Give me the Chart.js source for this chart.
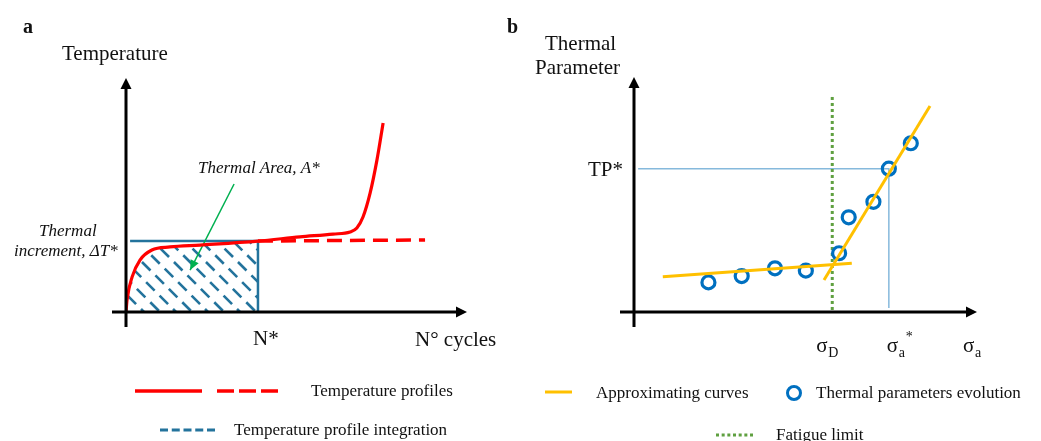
<!DOCTYPE html>
<html>
<head>
<meta charset="utf-8">
<script src="https://cdn.jsdelivr.net/npm/chart.js@4.4.1/dist/chart.umd.min.js"></script>
<style>
  body { margin: 0; background: #fff; }
  #wrap {
    position: relative; width: 1041px; height: 441px; overflow: hidden;
    background: #fff; font-family: 'Liberation Serif', 'Times New Roman', serif; color: #111;
  }
  #wrap canvas { position: absolute; top: 0; }
  #chart-a { left: 0; }
  #chart-b { left: 500px; }
  .key { position: absolute; font-size: 17px; line-height: 20px; white-space: nowrap; }
  #keys { position: absolute; left: 0; top: 0; pointer-events: none; }
</style>
</head>
<body>
<div id="wrap">
  <canvas id="chart-a" width="500" height="360"></canvas>
  <canvas id="chart-b" width="541" height="360"></canvas>

  <!-- legend marks -->
  <svg id="keys" width="1041" height="441">
    <line x1="135" y1="391" x2="202" y2="391" stroke="#ff0000" stroke-width="3.5"/>
    <line x1="217" y1="391" x2="278" y2="391" stroke="#ff0000" stroke-width="3.5" stroke-dasharray="17 5"/>
    <line x1="160" y1="430" x2="215" y2="430" stroke="#23739c" stroke-width="3" stroke-dasharray="8 3.75"/>
    <line x1="545" y1="392" x2="572" y2="392" stroke="#ffc000" stroke-width="3"/>
    <circle cx="794" cy="393" r="6.5" fill="none" stroke="#0070c0" stroke-width="3"/>
    <line x1="716" y1="435" x2="753" y2="435" stroke="#5fa040" stroke-width="3" stroke-dasharray="3 2.67"/>
  </svg>
  <div class="key" style="left:311px;top:381px">Temperature profiles</div>
  <div class="key" style="left:234px;top:420px">Temperature profile integration</div>
  <div class="key" style="left:596px;top:383px">Approximating curves</div>
  <div class="key" style="left:816px;top:383px">Thermal parameters evolution</div>
  <div class="key" style="left:776px;top:425px">Fatigue limit</div>
</div>

<script>
// ---- panel a: temperature vs. number of cycles ----
const cycles      = [0, 0.3, 1.8, 4.1, 7.6, 12.9, 21.7, 38.7, 51.0, 60.7, 65.7, 67.7, 69.5, 71.6, 73.6, 75.4];
const temperature = [0, 5.1, 15.0, 22.2, 26.5, 27.8, 28.6, 30.3, 32.1, 33.3, 34.2, 35.9, 40.6, 50.9, 65.0, 80.8];
const plateauCycles = [38.7, 87.7];
const plateauTemp   = [30.3, 30.8];
const nStar = 38.7;
const deltaTStar = 30.3;
const rectStart = 1.2;
const arrowCycles = [31.7, 18.8];
const arrowTemp   = [54.7, 17.9];

// ---- panel b: thermal parameter vs. stress amplitude ----
const stressLevels = [21.7, 31.4, 41.1, 50.1, 59.8, 62.6, 69.8, 74.3, 80.7];
const thermalParam = [12.6, 15.3, 18.6, 17.6, 25.0, 40.3, 46.9, 61.0, 71.8];
const fitLowX  = [8.4, 63.5];
const fitLowY  = [15.0, 20.7];
const fitHighX = [55.4, 86.3];
const fitHighY = [13.6, 87.7];
const sigmaD = 57.8;
const fatigueTop = 91.5;
const sigmaAStar = 74.3;
const tpStar = 61.0;
const guideStart = 1.2;
const guideEnd = 1.7;

const SERIF = '"Liberation Serif", "Times New Roman", serif';
const INK = '#111';

function pts(xs, ys) {
  return xs.map((x, i) => ({ x, y: ys[i] }));
}

// dashed "\" hatching over the whole canvas, neighbouring lines staggered
function hatchPattern(color, w, h) {
  const sheet = document.createElement('canvas');
  sheet.width = w;
  sheet.height = h;
  const g = sheet.getContext('2d');
  g.strokeStyle = color;
  g.lineWidth = 2.6;
  g.lineCap = 'butt';
  g.setLineDash([12, 7]);
  let k = 0;
  for (let c = -h; c < w; c += 16, k++) {
    g.lineDashOffset = (k % 2) * 9.5;
    g.beginPath();
    g.moveTo(c, 0);
    g.lineTo(c + h, h);
    g.stroke();
  }
  return g.createPattern(sheet, 'no-repeat');
}

function arrowHead(ctx, x0, y0, x1, y1, len, half) {
  const a = Math.atan2(y1 - y0, x1 - x0);
  const bx = x1 - len * Math.cos(a);
  const by = y1 - len * Math.sin(a);
  ctx.beginPath();
  ctx.moveTo(x1, y1);
  ctx.lineTo(bx + half * Math.sin(a), by - half * Math.cos(a));
  ctx.lineTo(bx - half * Math.sin(a), by + half * Math.cos(a));
  ctx.closePath();
  ctx.fill();
}

function text(ctx, str, x, y, font, align) {
  ctx.font = font;
  ctx.textAlign = align || 'left';
  ctx.fillText(str, x, y);
}

// black axes with arrow tips, then the panel's own labels
function panelPlugin(drawLabels) {
  return {
    id: 'panelDecor',
    afterDatasetsDraw(chart) {
      const { ctx, chartArea: { left, right, top, bottom } } = chart;
      ctx.save();
      ctx.strokeStyle = '#000';
      ctx.fillStyle = '#000';
      ctx.lineWidth = 3;
      ctx.beginPath();
      ctx.moveTo(left, bottom + 15);
      ctx.lineTo(left, top + 8);
      ctx.moveTo(left - 14, bottom);
      ctx.lineTo(right - 8, bottom);
      ctx.stroke();
      arrowHead(ctx, left, bottom, left, top, 11, 5.5);
      arrowHead(ctx, left, bottom, right, bottom, 11, 5.5);
      ctx.fillStyle = INK;
      ctx.textBaseline = 'alphabetic';
      drawLabels(chart, ctx);
      ctx.restore();
    }
  };
}

const baseOptions = (padding) => ({
  responsive: false,
  animation: false,
  events: [],
  layout: { padding },
  scales: {
    x: { type: 'linear', min: 0, max: 100, display: false },
    y: { type: 'linear', min: 0, max: 100, display: false }
  },
  plugins: { legend: { display: false }, tooltip: { enabled: false } },
  elements: { point: { radius: 0 } }
});

// panel a
const canvasA = document.getElementById('chart-a');
const integrated = cycles.map((c, i) => ({ x: c, y: temperature[i] })).filter(p => p.x <= nStar);

new Chart(canvasA, {
  type: 'line',
  data: {
    datasets: [
      {
        data: pts(cycles, temperature),
        borderColor: '#ff0000',
        borderWidth: 3.2,
        cubicInterpolationMode: 'monotone',
        fill: false
      },
      {
        data: pts(plateauCycles, plateauTemp),
        borderColor: '#ff0000',
        borderWidth: 3.5,
        borderDash: [15, 8],
        fill: false
      },
      {
        data: pts(arrowCycles, arrowTemp),
        borderColor: '#00b050',
        borderWidth: 1.5,
        fill: false
      },
      {
        data: pts([rectStart, nStar, nStar], [deltaTStar, deltaTStar, 0]),
        borderColor: '#23739c',
        borderWidth: 2.5,
        fill: false
      },
      {
        data: integrated,
        borderWidth: 0,
        borderColor: 'rgba(0,0,0,0)',
        cubicInterpolationMode: 'monotone',
        backgroundColor: hatchPattern('#23739c', canvasA.width, canvasA.height),
        fill: 'origin'
      }
    ]
  },
  options: baseOptions({ left: 126, right: 33, top: 78, bottom: 48 }),
  plugins: [panelPlugin((chart, ctx) => {
    const x = chart.scales.x;
    const { right } = chart.chartArea;

    // arrowhead on the "Thermal Area" pointer
    const arrow = chart.getDatasetMeta(2).data;
    ctx.fillStyle = '#00b050';
    arrowHead(ctx, arrow[0].x, arrow[0].y, arrow[1].x, arrow[1].y, 10, 4.5);
    ctx.fillStyle = INK;

    text(ctx, 'a', 23, 33, 'bold 20px ' + SERIF);
    text(ctx, 'Temperature', 62, 60, '21px ' + SERIF);
    text(ctx, 'Thermal Area, A*', 198, 173, 'italic 17px ' + SERIF);
    text(ctx, 'Thermal', 39, 236, 'italic 17px ' + SERIF);
    text(ctx, 'increment, \u0394T*', 14, 256, 'italic 17px ' + SERIF);
    text(ctx, 'N*', x.getPixelForValue(nStar) - 5, 345, '21px ' + SERIF);
    text(ctx, 'N\u00b0 cycles', right - 52, 346, '21px ' + SERIF);
  })]
});

// panel b
new Chart(document.getElementById('chart-b'), {
  type: 'line',
  data: {
    datasets: [
      {
        data: pts(fitLowX, fitLowY),
        borderColor: '#ffc000',
        borderWidth: 3,
        fill: false
      },
      {
        data: pts(fitHighX, fitHighY),
        borderColor: '#ffc000',
        borderWidth: 3,
        fill: false
      },
      {
        data: pts(stressLevels, thermalParam),
        showLine: false,
        pointRadius: 6.5,
        pointBorderWidth: 3.2,
        pointBorderColor: '#0070c0',
        pointBackgroundColor: 'rgba(0,0,0,0)',
        clip: false
      },
      {
        data: pts([sigmaD, sigmaD], [fatigueTop, 0]),
        borderColor: '#5fa040',
        borderWidth: 3,
        borderDash: [3, 3],
        fill: false
      },
      {
        data: pts([guideStart, sigmaAStar, sigmaAStar], [tpStar, tpStar, guideEnd]),
        borderColor: '#86b9dc',
        borderWidth: 1.5,
        fill: false
      }
    ]
  },
  options: baseOptions({ left: 134, right: 64, top: 77, bottom: 48 }),
  plugins: [panelPlugin((chart, ctx) => {
    const x = chart.scales.x;
    const y = chart.scales.y;
    const { left, right } = chart.chartArea;
    const big = '21px ' + SERIF;
    const small = '14px ' + SERIF;

    text(ctx, 'b', 7, 33, 'bold 20px ' + SERIF);
    text(ctx, 'Thermal', 45, 50, big);
    text(ctx, 'Parameter', 35, 74, big);
    text(ctx, 'TP*', left - 11, y.getPixelForValue(tpStar) + 7, big, 'right');

    const sd = x.getPixelForValue(sigmaD) - 16;
    text(ctx, '\u03c3', sd, 352, big);
    text(ctx, 'D', sd + 12, 357, small);

    const sa = x.getPixelForValue(sigmaAStar) - 2;
    text(ctx, '\u03c3', sa, 352, big);
    text(ctx, 'a', sa + 12, 357, small);
    text(ctx, '*', sa + 19, 341, small);

    const se = right - 14;
    text(ctx, '\u03c3', se, 352, big);
    text(ctx, 'a', se + 12, 357, small);
  })]
});
</script>
</body>
</html>
